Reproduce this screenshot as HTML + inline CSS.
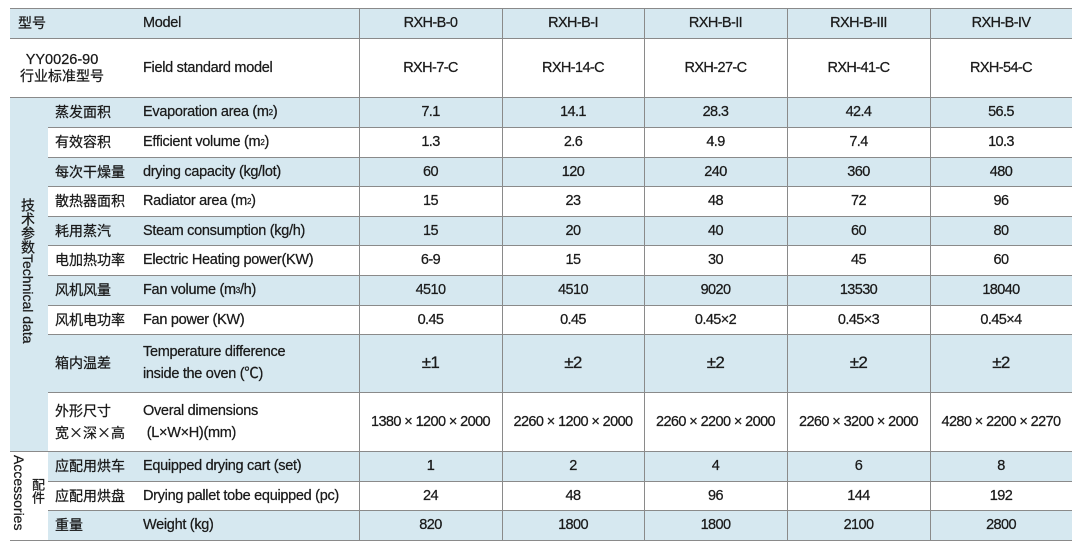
<!DOCTYPE html>
<html><head><meta charset="utf-8">
<style>
*{margin:0;padding:0;box-sizing:border-box}
body{width:1081px;height:547px;background:#fff;position:relative;overflow:hidden;font-family:"Liberation Sans","Noto Sans CJK SC",sans-serif;color:#1a1a1a;font-size:14.5px;-webkit-text-stroke:0.25px #1a1a1a}
.bg{position:absolute;background:#d6e8f0}
.hl{position:absolute;height:1px;background:#8a8a8a}
.vl{position:absolute;width:1px;background:#8a8a8a;top:8px;height:532px}
.t{position:absolute;display:flex;align-items:center;white-space:nowrap;letter-spacing:-0.3px}
.c{justify-content:center;text-align:center;letter-spacing:-0.6px}
.cn{font-family:"Noto Sans CJK SC","WenQuanYi Zen Hei",sans-serif;font-size:14px;letter-spacing:0}
sup{font-size:8px}
</style></head><body>
<div class="bg" style="left:10px;top:8px;width:1062px;height:30px"></div>
<div class="bg" style="left:10px;top:97px;width:38px;height:354px"></div>
<div class="bg" style="left:48px;top:97px;width:1024px;height:30px"></div>
<div class="bg" style="left:48px;top:157px;width:1024px;height:29px"></div>
<div class="bg" style="left:48px;top:216px;width:1024px;height:29px"></div>
<div class="bg" style="left:48px;top:275px;width:1024px;height:30px"></div>
<div class="bg" style="left:48px;top:334px;width:1024px;height:58px"></div>
<div class="bg" style="left:48px;top:451px;width:1024px;height:30px"></div>
<div class="bg" style="left:48px;top:510px;width:1024px;height:30px"></div>
<div class="hl" style="left:10px;top:8px;width:1062px"></div>
<div class="hl" style="left:10px;top:38px;width:1062px"></div>
<div class="hl" style="left:10px;top:97px;width:1062px"></div>
<div class="hl" style="left:48px;top:127px;width:1024px"></div>
<div class="hl" style="left:48px;top:157px;width:1024px"></div>
<div class="hl" style="left:48px;top:186px;width:1024px"></div>
<div class="hl" style="left:48px;top:216px;width:1024px"></div>
<div class="hl" style="left:48px;top:245px;width:1024px"></div>
<div class="hl" style="left:48px;top:275px;width:1024px"></div>
<div class="hl" style="left:48px;top:305px;width:1024px"></div>
<div class="hl" style="left:48px;top:334px;width:1024px"></div>
<div class="hl" style="left:48px;top:392px;width:1024px"></div>
<div class="hl" style="left:10px;top:451px;width:1062px"></div>
<div class="hl" style="left:48px;top:481px;width:1024px"></div>
<div class="hl" style="left:48px;top:510px;width:1024px"></div>
<div class="hl" style="left:10px;top:540px;width:1062px"></div>
<div class="vl" style="left:359px"></div>
<div class="vl" style="left:502px"></div>
<div class="vl" style="left:644px"></div>
<div class="vl" style="left:787px"></div>
<div class="vl" style="left:930px"></div>

<div class="t cn" style="left:18px;top:8px;height:30px">型号</div>
<div class="t" style="left:143px;top:8px;height:30px">Model</div>
<div class="t c" style="left:10px;top:38px;width:104px;height:59px;flex-direction:column;line-height:16px;letter-spacing:0"><span>YY0026-90</span><span class="cn">行业标准型号</span></div>
<div class="t" style="left:143px;top:38px;height:59px">Field standard model</div>

<div style="position:absolute;left:20px;top:198px;writing-mode:vertical-rl;font-size:14px;line-height:16px;white-space:nowrap"><span class="cn">技术参数</span>Technical data</div>
<div style="position:absolute;left:12px;top:455px;writing-mode:vertical-rl;font-size:14px;line-height:14px;white-space:nowrap">Accessories</div>
<div class="cn" style="position:absolute;left:31px;top:478px;writing-mode:vertical-rl;font-size:13px;line-height:14px">配件</div>

<div class="t cn" style="left:55px;top:97px;height:30px">蒸发面积</div><div class="t" style="left:143px;top:97px;height:30px">Evaporation area (m<sup>2</sup>)</div>
<div class="t cn" style="left:55px;top:127px;height:30px">有效容积</div><div class="t" style="left:143px;top:127px;height:30px">Efficient volume (m<sup>2</sup>)</div>
<div class="t cn" style="left:55px;top:157px;height:29px">每次干燥量</div><div class="t" style="left:143px;top:157px;height:29px">drying capacity (kg/lot)</div>
<div class="t cn" style="left:55px;top:186px;height:30px">散热器面积</div><div class="t" style="left:143px;top:186px;height:30px">Radiator area (m<sup>2</sup>)</div>
<div class="t cn" style="left:55px;top:216px;height:29px">耗用蒸汽</div><div class="t" style="left:143px;top:216px;height:29px">Steam consumption (kg/h)</div>
<div class="t cn" style="left:55px;top:245px;height:30px">电加热功率</div><div class="t" style="left:143px;top:245px;height:30px">Electric Heating power(KW)</div>
<div class="t cn" style="left:55px;top:275px;height:30px">风机风量</div><div class="t" style="left:143px;top:275px;height:30px">Fan volume (m<sup>3</sup>/h)</div>
<div class="t cn" style="left:55px;top:305px;height:29px">风机电功率</div><div class="t" style="left:143px;top:305px;height:29px">Fan power (KW)</div>
<div class="t cn" style="left:55px;top:334px;height:58px">箱内温差</div><div class="t" style="left:143px;top:334px;height:58px;line-height:22px">Temperature difference<br>inside the oven (℃)</div>
<div class="t cn" style="left:55px;top:392px;height:59px;line-height:22px">外形尺寸<br>宽×深×高</div><div class="t" style="left:143px;top:392px;height:59px;line-height:22px">Overal dimensions<br>&nbsp;(L×W×H)(mm)</div>
<div class="t cn" style="left:55px;top:451px;height:30px">应配用烘车</div><div class="t" style="left:143px;top:451px;height:30px">Equipped drying cart (set)</div>
<div class="t cn" style="left:55px;top:481px;height:29px">应配用烘盘</div><div class="t" style="left:143px;top:481px;height:29px">Drying pallet tobe equipped (pc)</div>
<div class="t cn" style="left:55px;top:510px;height:30px">重量</div><div class="t" style="left:143px;top:510px;height:30px">Weight (kg)</div>

<div id="d"></div>
<script>
var cols=[359,502,644,787,930,1072];
var rows=[[8,38],[38,97],[97,127],[127,157],[157,186],[186,216],[216,245],[245,275],[275,305],[305,334],[334,392],[392,451],[451,481],[481,510],[510,540]];
var x=' × ';
var data=[
["RXH-B-0","RXH-B-I","RXH-B-II","RXH-B-III","RXH-B-IV"],
["RXH-7-C","RXH-14-C","RXH-27-C","RXH-41-C","RXH-54-C"],
["7.1","14.1","28.3","42.4","56.5"],
["1.3","2.6","4.9","7.4","10.3"],
["60","120","240","360","480"],
["15","23","48","72","96"],
["15","20","40","60","80"],
["6-9","15","30","45","60"],
["4510","4510","9020","13530","18040"],
["0.45","0.45","0.45×2","0.45×3","0.45×4"],
["±1","±2","±2","±2","±2"],
["1380"+x+"1200"+x+"2000","2260"+x+"1200"+x+"2000","2260"+x+"2200"+x+"2000","2260"+x+"3200"+x+"2000","4280"+x+"2200"+x+"2270"],
["1","2","4","6","8"],
["24","48","96","144","192"],
["820","1800","1800","2100","2800"]];
var h="";
for(var r=0;r<rows.length;r++)for(var c=0;c<5;c++){
var fs=(r==10)?'font-size:17px;':'';
h+='<div class="t c" style="'+fs+'left:'+cols[c]+'px;top:'+rows[r][0]+'px;width:'+(cols[c+1]-cols[c])+'px;height:'+(rows[r][1]-rows[r][0])+'px">'+data[r][c]+'</div>';}
document.getElementById("d").innerHTML=h;
</script>
</body></html>
